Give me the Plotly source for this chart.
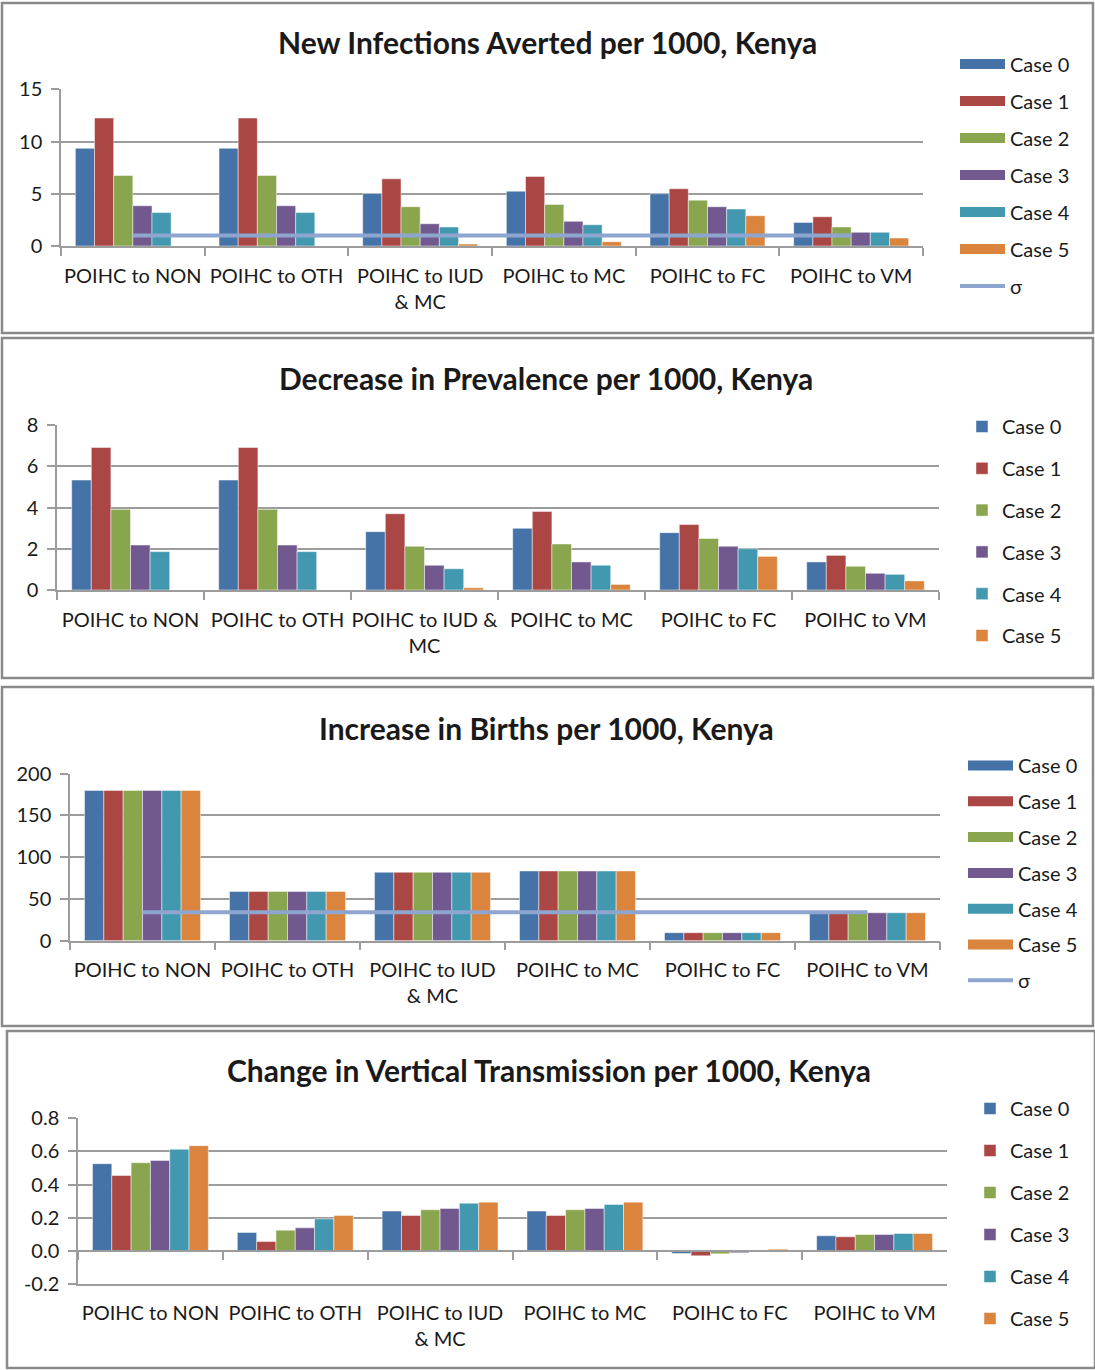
import plotly.graph_objects as go

W, H = 1095, 1370

# ---------------- data ----------------
categories = ["POIHC to NON", "POIHC to OTH", "POIHC to IUD<br>& MC", "POIHC to MC", "POIHC to FC", "POIHC to VM"]
categories_p2 = ["POIHC to NON", "POIHC to OTH", "POIHC to IUD &<br>MC", "POIHC to MC", "POIHC to FC", "POIHC to VM"]
case_names = ["Case 0", "Case 1", "Case 2", "Case 3", "Case 4", "Case 5"]

# Panel 1: New Infections Averted per 1000
infections_c0 = [9.35, 9.35, 5.03, 5.25, 5.00, 2.26]
infections_c1 = [12.25, 12.25, 6.43, 6.66, 5.48, 2.80]
infections_c2 = [6.75, 6.75, 3.76, 3.98, 4.39, 1.82]
infections_c3 = [3.85, 3.85, 2.13, 2.36, 3.76, 1.31]
infections_c4 = [3.20, 3.20, 1.82, 2.04, 3.54, 1.31]
infections_c5 = [0.00, 0.00, 0.19, 0.41, 2.90, 0.76]
infections_sigma = [1.0, 1.0, 1.0, 1.0, 1.0, 1.0]

# Panel 2: Decrease in Prevalence per 1000
prevalence_c0 = [5.33, 5.33, 2.83, 2.99, 2.78, 1.36]
prevalence_c1 = [6.91, 6.91, 3.70, 3.81, 3.17, 1.68]
prevalence_c2 = [3.91, 3.91, 2.12, 2.23, 2.50, 1.15]
prevalence_c3 = [2.18, 2.18, 1.20, 1.36, 2.12, 0.81]
prevalence_c4 = [1.86, 1.86, 1.03, 1.20, 2.00, 0.76]
prevalence_c5 = [0.00, 0.00, 0.11, 0.27, 1.63, 0.44]

# Panel 3: Increase in Births per 1000 (identical across cases)
births_c0 = [180, 59, 82, 83.5, 9.6, 33.5]
births_c1 = [180, 59, 82, 83.5, 9.6, 33.5]
births_c2 = [180, 59, 82, 83.5, 9.6, 33.5]
births_c3 = [180, 59, 82, 83.5, 9.6, 33.5]
births_c4 = [180, 59, 82, 83.5, 9.6, 33.5]
births_c5 = [180, 59, 82, 83.5, 9.6, 33.5]
births_sigma = [34, 34, 34, 34, 34, 34]

# Panel 4: Change in Vertical Transmission per 1000
vertical_c0 = [0.526, 0.111, 0.240, 0.240, -0.016, 0.091]
vertical_c1 = [0.455, 0.056, 0.214, 0.214, -0.030, 0.085]
vertical_c2 = [0.532, 0.125, 0.248, 0.248, -0.018, 0.099]
vertical_c3 = [0.546, 0.139, 0.256, 0.256, -0.012, 0.099]
vertical_c4 = [0.613, 0.193, 0.288, 0.280, 0.003, 0.105]
vertical_c5 = [0.635, 0.214, 0.294, 0.294, 0.010, 0.105]

p1_ticks = [0, 5, 10, 15]
p2_ticks = [0, 2, 4, 6, 8]
p3_ticks = [0, 50, 100, 150, 200]
p4_ticks = [-0.2, 0.0, 0.2, 0.4, 0.6, 0.8]
p4_ticktext = ["-0.2", "0.0", "0.2", "0.4", "0.6", "0.8"]

titles = ["New Infections Averted per 1000, Kenya",
          "Decrease in Prevalence per 1000, Kenya",
          "Increase in Births per 1000, Kenya",
          "Change in Vertical Transmission per 1000, Kenya"]

# ---------------- style ----------------
colors = ["#4572A7", "#AA4643", "#89A54E", "#71588F", "#4198AF", "#DB843D"]
sigma_color = "#8EA6CF"
grid_color = "#9C9C9C"
FONT = "Lato"
TXT = "#1a1a1a"


def px_x(v):
    return v / W


def px_y(v):
    return 1 - v / H


fig = go.Figure()

panels = [
    dict(ax="", cats=categories,
         series=[infections_c0, infections_c1, infections_c2, infections_c3, infections_c4, infections_c5],
         sigma=infections_sigma, legend="legend"),
    dict(ax="2", cats=categories_p2,
         series=[prevalence_c0, prevalence_c1, prevalence_c2, prevalence_c3, prevalence_c4, prevalence_c5],
         sigma=None, legend="legend2"),
    dict(ax="3", cats=categories,
         series=[births_c0, births_c1, births_c2, births_c3, births_c4, births_c5],
         sigma=births_sigma, legend="legend3"),
    dict(ax="4", cats=categories,
         series=[vertical_c0, vertical_c1, vertical_c2, vertical_c3, vertical_c4, vertical_c5],
         sigma=None, legend="legend4"),
]

for p in panels:
    wide_legend = p["sigma"] is not None
    for i, (name, vals) in enumerate(zip(case_names, p["series"])):
        fig.add_trace(go.Bar(
            x=p["cats"], y=vals, name=name,
            marker=dict(color=colors[i], line=dict(color="rgba(255,255,255,0.6)", width=0.8)),
            xaxis="x" + p["ax"], yaxis="y" + p["ax"],
            legend=p["legend"], legendgroup=p["legend"] + name,
            showlegend=not wide_legend,
        ))
    if wide_legend:
        for i, name in enumerate(case_names):
            fig.add_trace(go.Scatter(
                x=[None], y=[None], mode="lines", name=name,
                line=dict(color=colors[i], width=10),
                xaxis="x" + p["ax"], yaxis="y" + p["ax"],
                legend=p["legend"], legendgroup=p["legend"] + name + "L",
                hoverinfo="skip",
            ))
        fig.add_trace(go.Scatter(
            x=p["cats"], y=p["sigma"], mode="lines", name="σ",
            line=dict(color=sigma_color, width=4),
            xaxis="x" + p["ax"], yaxis="y" + p["ax"],
            legend=p["legend"], legendgroup=p["legend"] + "sigma",
        ))

# overlay axis for panel 4 ticks at zero line
fig.add_trace(go.Scatter(x=categories, y=[None] * 6, mode="lines", showlegend=False,
                         xaxis="x5", yaxis="y4", hoverinfo="skip"))

# ---------------- axes ----------------
geo = [
    dict(x0=61, x1=923, yt=89.3, yb=246, rng=[0, 15], tv=p1_ticks, tt=None),
    dict(x0=57, x1=939, yt=425, yb=590, rng=[0, 8], tv=p2_ticks, tt=None),
    dict(x0=70, x1=940, yt=773.7, yb=940.7, rng=[0, 200], tv=p3_ticks, tt=None),
    dict(x0=78, x1=947, yt=1118.3, yb=1284, rng=[-0.2, 0.8], tv=p4_ticks, tt=p4_ticktext),
]

tick_font = dict(family=FONT, size=20, color=TXT)
layout_axes = {}
for k, g in enumerate(geo):
    sfx = "" if k == 0 else str(k + 1)
    last = (k == 3)
    layout_axes["xaxis" + sfx] = dict(
        domain=[px_x(g["x0"]), px_x(g["x1"])], anchor="y" + sfx,
        type="category", range=[-0.5, 5.5], tickangle=0, automargin=False,
        showgrid=False, showline=True, linecolor=grid_color, linewidth=1.5,
        ticks="" if last else "outside", tickson="boundaries", ticklen=8, tickcolor=grid_color,
        tickwidth=1.5, tickfont=tick_font, ticklabelstandoff=11 if not last else 10,
        fixedrange=True,
    )
    yax = dict(
        domain=[px_y(g["yb"]), px_y(g["yt"])], anchor="x" + sfx, automargin=False,
        range=g["rng"], tickvals=g["tv"],
        showgrid=True, gridcolor=grid_color, gridwidth=1.5,
        showline=True, linecolor=grid_color, linewidth=1.5,
        ticks="outside", ticklen=8, tickcolor=grid_color, tickwidth=1.5,
        tickfont=tick_font, ticklabelstandoff=5, zeroline=False, fixedrange=True,
    )
    if g["tt"] is not None:
        yax["ticktext"] = g["tt"]
    layout_axes["yaxis" + sfx] = yax

g4 = geo[3]
zero_pos = px_y(g4["yb"] - (0 - g4["rng"][0]) / (g4["rng"][1] - g4["rng"][0]) * (g4["yb"] - g4["yt"]))
layout_axes["xaxis5"] = dict(
    overlaying="x4", anchor="free", position=zero_pos, automargin=False,
    type="category", range=[-0.5, 5.5], categoryarray=categories,
    showgrid=False, showline=True, linecolor=grid_color, linewidth=1.5,
    ticks="outside", tickson="boundaries", ticklen=8, tickcolor=grid_color, tickwidth=1.5,
    showticklabels=False, fixedrange=True,
)

# ---------------- legends ----------------
leg_font = dict(family=FONT, size=20, color=TXT)
legends = {
    "legend": dict(x=px_x(955), y=px_y(44.5), gap=8, itemwidth=45),
    "legend2": dict(x=px_x(962), y=px_y(407), gap=12.8, itemwidth=30),
    "legend3": dict(x=px_x(963), y=px_y(746), gap=6.8, itemwidth=45),
    "legend4": dict(x=px_x(970), y=px_y(1089), gap=13, itemwidth=30),
}
for name, l in legends.items():
    layout_axes[name] = dict(
        x=l["x"], y=l["y"], xanchor="left", yanchor="top",
        font=leg_font, bgcolor="rgba(0,0,0,0)", traceorder="grouped",
        tracegroupgap=l["gap"], itemwidth=l["itemwidth"],
    )

# ---------------- borders & titles ----------------
borders = [(2, 3, 1093, 333), (2, 338, 1093, 678), (2, 687, 1093, 1026), (7, 1031, 1095, 1368)]
shapes = [dict(type="rect", xref="paper", yref="paper",
               x0=px_x(a), x1=px_x(c), y0=px_y(d), y1=px_y(b),
               line=dict(color="#8A8A8A", width=2.5), layer="below")
          for (a, b, c, d) in borders]

title_pos = [(547, 42), (546, 378), (546, 728), (549, 1070)]
annotations = [dict(text="<b>%s</b>" % t, xref="paper", yref="paper",
                    x=px_x(cx), y=px_y(cy), xanchor="center", yanchor="middle",
                    showarrow=False, font=dict(family=FONT, size=30, color=TXT))
               for t, (cx, cy) in zip(titles, title_pos)]

fig.update_layout(
    width=W, height=H, margin=dict(l=0, r=0, t=0, b=0, autoexpand=False),
    paper_bgcolor="white", plot_bgcolor="white",
    barmode="group", bargap=0.2, bargroupgap=0,
    font=dict(family=FONT, color=TXT),
    shapes=shapes, annotations=annotations,
    **layout_axes,
)

fig.write_html("out.html", config={"displayModeBar": False},
               post_script="document.body.style.margin='0px';document.body.style.overflow='hidden';")
